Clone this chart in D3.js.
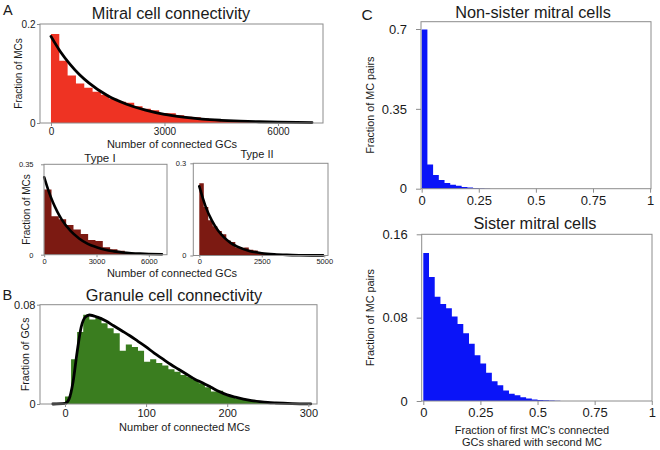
<!DOCTYPE html>
<html><head><meta charset="utf-8">
<script src="https://cdn.jsdelivr.net/npm/d3@7"></script>
<style>body{margin:0;background:#fff;} text{font-family:"Liberation Sans",Arial,sans-serif;}</style>
</head><body>
<script>
// ---------- DATA ----------
// Panel A (all MCs): histogram of connected GCs
const mcBinWidth = 220;
const mcFractions = [0.180,0.126,0.096,0.080,0.071,0.063,0.057,0.049,0.043,0.041,0.034,0.029,0.026,0.020,0.0196,0.0156,0.0127,0.0115,0.009,0.007,0.0055,0.0045,0.0035,0.0028,0.0022,0.0017,0.0013,0.001,0.0008,0.0006,0.0005];
const mcFitX = [0,250,500,750,1000,1500,2000,2500,3000,3500,4000,4500,5000,5500,6000,6500,6900];
const mcFitY = [0.175,0.144,0.119,0.098,0.081,0.055,0.038,0.026,0.0175,0.012,0.008,0.0055,0.0037,0.0025,0.0017,0.0012,0.0009];
const mcXTicks = [0,3000,6000];
const mcYTicks = [0,0.2];
const mcYTickLabels = ["0","0.2"];

// Type I
const t1BinWidth = 420;
const t1Fractions = [0.252,0.149,0.137,0.115,0.098,0.080,0.057,0.053,0.029,0.021,0.0154,0.010,0.007,0.004,0.003,0.002];
const t1FitX = [0,250,500,750,1000,1500,2000,2500,3000,3500,4000,4500,5000,5500,6000,6750];
const t1FitY = [0.300,0.247,0.203,0.167,0.137,0.093,0.063,0.042,0.029,0.019,0.013,0.0087,0.0059,0.004,0.0027,0.0015];
const t1XTicks = [0,3000,6000];
const t1YTicks = [0,0.35];
const t1YTickLabels = ["0","0.35"];

// Type II
const t2BinWidth = 180;
const t2Fractions = [0.235,0.158,0.115,0.095,0.080,0.069,0.049,0.044,0.027,0.025,0.026,0.019,0.016,0.011,0.0076,0.005,0.003,0.002,0.001];
const t2FitX = [0,250,500,750,1000,1250,1500,2000,2500,3000,3500,4000,4500,4950];
const t2FitY = [0.225,0.160,0.114,0.081,0.058,0.041,0.0295,0.015,0.0076,0.0039,0.002,0.001,0.0005,0.0003];
const t2XTicks = [0,2500,5000];
const t2YTicks = [0,0.3];
const t2YTickLabels = ["0","0.3"];

// Panel B: GC connectivity
const gcBinWidth = 7.5;
const gcFractions = [0.006,0.036,0.058,0.072,0.068,0.070,0.065,0.061,0.057,0.043,0.048,0.046,0.043,0.034,0.036,0.033,0.031,0.028,0.026,0.0234,0.022,0.0193,0.0167,0.0134,0.010,0.0107,0.008,0.006,0.0045,0.0035,0.0025,0.0018,0.0012,0.0008,0.0005,0.0003,0.0002,0.0001];
const gcFitX = [-15,0,5,10,15,20,25,30,40,50,60,70,80,90,100,110,120,130,140,150,160,170,180,190,200,210,220,230,240,250,260,280,303];
const gcFitY = [0,0.0005,0.004,0.018,0.042,0.062,0.070,0.0717,0.070,0.067,0.063,0.059,0.055,0.0505,0.046,0.041,0.0365,0.032,0.028,0.024,0.020,0.017,0.0135,0.010,0.0073,0.0055,0.004,0.0028,0.0019,0.0012,0.0008,0.0003,0.0001];
const gcXTicks = [0,100,200,300];
const gcYTicks = [0,0.08];
const gcYTickLabels = ["0","0.08"];

// Panel C
const pairBinWidth = 0.025;
const nonSisterFractions = [0.698,0.106,0.060,0.038,0.025,0.0176,0.013,0.008,0.005,0.003,0.002,0.001];
const sisterFractions = [0.142,0.119,0.100,0.093,0.089,0.081,0.074,0.065,0.055,0.044,0.036,0.027,0.019,0.015,0.010,0.007,0.0055,0.0035,0.0025,0.0015,0.001,0.0007,0.0004,0.0002];
const pairXTicks = [0,0.25,0.5,0.75,1];
const pairXTickLabels = ["0","0.25","0.5","0.75","1"];
const nonSisterYTicks = [0,0.35,0.7];
const nonSisterYTickLabels = ["0","0.35","0.7"];
const sisterYTicks = [0,0.08,0.16];
const sisterYTickLabels = ["0","0.08","0.16"];

// ---------- DRAWING ----------
const svg = d3.select("body").append("svg").attr("width",660).attr("height",450);
const SPINE = "#8c8c8c", TXT = "#1a1a1a";

function panel(o){
  const x = d3.scaleLinear().domain(o.xDomain).range([o.left,o.right]);
  const y = d3.scaleLinear().domain(o.yDomain).range([o.bottom,o.top]);
  const g = svg.append("g");
  // histogram as one stepped area (bin edges -> values)
  const steps = o.values.map((v,i)=>[i*o.binWidth,v]);
  steps.push([o.values.length*o.binWidth,o.values[o.values.length-1]]);
  g.append("path").datum(steps)
    .attr("d",d3.area().x(d=>x(d[0])).y0(y(0)).y1(d=>y(d[1])).curve(d3.curveStepAfter))
    .attr("fill",o.color);
  if(o.fitX){
    const pts = o.fitX.map((v,i)=>[v,o.fitY[i]]);
    g.append("path").datum(pts)
      .attr("d",d3.line().x(d=>x(d[0])).y(d=>y(d[1])).curve(d3.curveMonotoneX))
      .attr("fill","none").attr("stroke","#000").attr("stroke-width",o.lw||2.6)
      .attr("stroke-linecap","round");
  }
  g.append("rect").attr("x",o.left).attr("y",o.top)
    .attr("width",o.right-o.left).attr("height",o.bottom-o.top)
    .attr("fill","none").attr("stroke",SPINE).attr("stroke-width",1);
  const xa = d3.axisBottom(x).tickValues(o.xTicks)
    .tickFormat((d,i)=>o.xTickLabels?o.xTickLabels[i]:d3.format("d")(d))
    .tickSize(o.xTick[0]).tickPadding(o.xTick[1]);
  const gx = g.append("g").attr("transform",`translate(0,${o.bottom})`).call(xa);
  const ya = d3.axisLeft(y).tickValues(o.yTicks)
    .tickFormat((d,i)=>o.yTickLabels[i])
    .tickSize(o.yTick[0]).tickPadding(o.yTick[1]);
  const gy = g.append("g").attr("transform",`translate(${o.left},0)`).call(ya);
  [gx,gy].forEach(a=>{
    a.select(".domain").remove();
    a.selectAll("line").attr("stroke",SPINE);
    a.selectAll("text").attr("fill",TXT).style("font-size",o.tickFont+"px")
      .style("font-family","'Liberation Sans',Arial,sans-serif");
  });
  if(o.ylabel){
    g.append("text").attr("transform",`translate(${o.ylabel[1]},${(o.top+o.bottom)/2}) rotate(-90)`)
      .attr("text-anchor","middle").attr("dy","0.35em").attr("fill",TXT)
      .style("font-size",o.ylabel[2]+"px").text(o.ylabel[0]);
  }
  return {x,y};
}

function label(t,x,y,size,anchor){
  svg.append("text").attr("x",x).attr("y",y).attr("text-anchor",anchor||"middle")
    .attr("fill",TXT).style("font-size",size+"px").text(t);
}

// Panel A top
panel({left:40,right:323,top:24,bottom:123,xDomain:[-290,7190],yDomain:[0,0.2],
  values:mcFractions,binWidth:mcBinWidth,color:"#ee3323",fitX:mcFitX,fitY:mcFitY,lw:2.8,
  xTicks:mcXTicks,yTicks:mcYTicks,yTickLabels:mcYTickLabels,xTick:[3,2],yTick:[3,1.5],tickFont:10,
  ylabel:["Fraction of MCs",18.5,10]});
label("A",3,15,14.5,"start");
label("Mitral cell connectivity",171,19,16.3);
label("Number of connected GCs",172,147.5,11);

// Type I
panel({left:44,right:167,top:164.3,bottom:254.7,xDomain:[-10,7040],yDomain:[0,0.35],
  values:t1Fractions,binWidth:t1BinWidth,color:"#7c1a12",fitX:t1FitX,fitY:t1FitY,lw:2.6,
  xTicks:t1XTicks,yTicks:t1YTicks,yTickLabels:t1YTickLabels,xTick:[2.5,1],yTick:[3,7.5],tickFont:7.5,
  ylabel:["Fraction of MCs",26.5,10]});
label("Type I",100,162,11.5);

// Type II
panel({left:193.3,right:328,top:163.3,bottom:255.5,xDomain:[-240,5150],yDomain:[0,0.3],
  values:t2Fractions,binWidth:t2BinWidth,color:"#7c1a12",fitX:t2FitX,fitY:t2FitY,lw:2.6,
  xTicks:t2XTicks,yTicks:t2YTicks,yTickLabels:t2YTickLabels,xTick:[2,1],yTick:[3,4],tickFont:7.5});
label("Type II",257,158,11);
label("Number of connected GCs",172,277,11);

// Panel B
panel({left:40,right:317,top:304.7,bottom:404,xDomain:[-30.8,310.7],yDomain:[0,0.08],
  values:gcFractions,binWidth:gcBinWidth,color:"#3a7d1f",fitX:gcFitX,fitY:gcFitY,lw:2.8,
  xTicks:gcXTicks,yTicks:gcYTicks,yTickLabels:gcYTickLabels,xTick:[3,2.5],yTick:[3,1.5],tickFont:11,
  ylabel:["Fraction of GCs",25,10.5]});
label("B",2.5,300,14.5,"start");
label("Granule cell connectivity",174,301,16.3);
label("Number of connected MCs",184.5,430.5,11);

// Panel C top
panel({left:421,right:651,top:21.7,bottom:188.7,xDomain:[-0.003,1.004],yDomain:[0,0.732],
  values:nonSisterFractions,binWidth:pairBinWidth,color:"#0a14f8",
  xTicks:pairXTicks,xTickLabels:pairXTickLabels,yTicks:nonSisterYTicks,yTickLabels:nonSisterYTickLabels,
  xTick:[4,3],yTick:[5,9],tickFont:13,ylabel:["Fraction of MC pairs",370,10.8]});
label("C",361.5,20,15.5,"start");
label("Non-sister mitral cells",533,17.5,16.3);

// Panel C bottom
panel({left:421.7,right:652,top:234.3,bottom:401,xDomain:[-0.007,1.001],yDomain:[0,0.16],
  values:sisterFractions,binWidth:pairBinWidth,color:"#0a14f8",
  xTicks:pairXTicks,xTickLabels:pairXTickLabels,yTicks:sisterYTicks,yTickLabels:sisterYTickLabels,
  xTick:[4,3],yTick:[5,9],tickFont:13,ylabel:["Fraction of MC pairs",370,10.8]});
label("Sister mitral cells",535,229,16.3);
label("Fraction of first MC's connected",532,434,11);
label("GCs shared with second MC",532,446,11);
</script>
</body></html>
